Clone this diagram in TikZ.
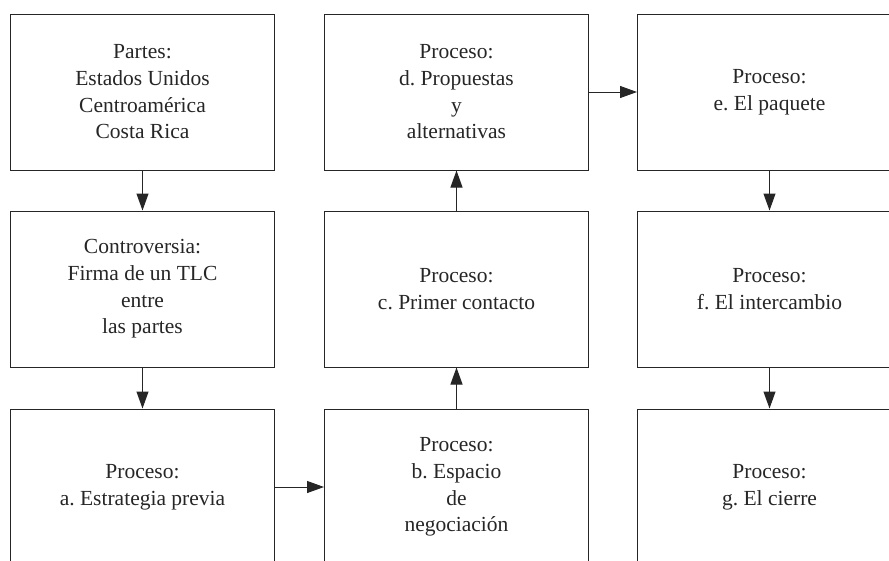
\documentclass[tikz,border=0pt]{standalone}
\usepackage{fontspec}
\setmainfont{Liberation Serif}
\usetikzlibrary{arrows.meta}
\tikzset{
  box/.style={draw=black!85, line width=1pt, minimum width=264pt, minimum height=156pt,
    inner sep=0pt, align=center, text=black!85,
    font=\fontsize{21.5}{26.7}\selectfont\frenchspacing},
  conn/.style={draw=black!85, line width=1pt, -{Triangle[length=17pt,width=12pt]}}
}
\begin{document}
\begin{tikzpicture}[x=1pt,y=1pt]
\useasboundingbox (0,0) rectangle (889,-560);
\clip (0,0) rectangle (889,-560);
\node[box] (p) at (142.5,-92) {Partes:\\Estados Unidos\\Centroamérica\\Costa Rica};
\node[box] (ctrl) at (142.5,-289) {Controversia:\\Firma de un TLC\\entre\\las partes};
\node[box] (a) at (142.5,-487) {Proceso:\\a. Estrategia previa};
\node[box] (b) at (456.5,-487) {Proceso:\\b. Espacio\\de\\negociación};
\node[box] (c) at (456.5,-289) {Proceso:\\c. Primer contacto};
\node[box] (d) at (456.5,-92) {Proceso:\\d. Propuestas\\y\\alternativas};
\node[box] (e) at (769.5,-92) {Proceso:\\e. El paquete};
\node[box] (f) at (769.5,-289) {Proceso:\\f. El intercambio};
\node[box] (g) at (769.5,-487) {Proceso:\\g. El cierre};
\draw[conn] (p) -- (ctrl);
\draw[conn] (ctrl) -- (a);
\draw[conn] (a) -- (b);
\draw[conn] (b) -- (c);
\draw[conn] (c) -- (d);
\draw[conn] (d) -- (e);
\draw[conn] (e) -- (f);
\draw[conn] (f) -- (g);
\end{tikzpicture}
\end{document}
